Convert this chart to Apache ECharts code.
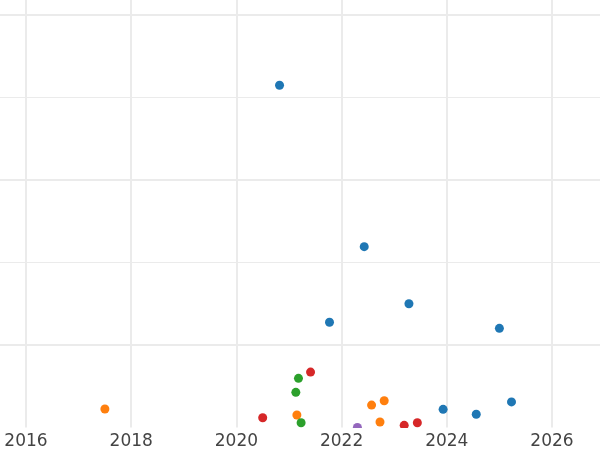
<!DOCTYPE html>
<html>
<head>
<meta charset="utf-8">
<script src="https://cdn.jsdelivr.net/npm/echarts@6/dist/echarts.min.js"></script>
<style>html,body{margin:0;padding:0;background:#fff}#c{width:600px;height:450px}</style>
</head>
<body>
<div id="c"></div>
<script>
// Data (x = year, y = value)
const seriesNames = ['A', 'B', 'C', 'D', 'E'];
const seriesColors = ['#1f77b4', '#ff7f0e', '#2ca02c', '#d62728', '#9467bd'];
const blueX = [2020.82, 2022.43, 2023.28, 2021.77, 2025.00, 2023.93, 2024.56, 2025.23];
const blueY = [20.74, 10.96, 7.50, 6.38, 6.01, 1.10, 0.80, 1.55];
const orangeX = [2017.50, 2021.15, 2022.57, 2022.81, 2022.73];
const orangeY = [1.12, 0.76, 1.36, 1.62, 0.33];
const greenX = [2021.18, 2021.13, 2021.23];
const greenY = [2.98, 2.13, 0.29];
const redX = [2021.41, 2020.50, 2023.19, 2023.44];
const redY = [3.36, 0.59, 0.13, 0.29];
const purpleX = [2022.30];
const purpleY = [0.0];
const xTicks = [2014, 2016, 2018, 2020, 2022, 2024, 2026, 2028];

const allX = [blueX, orangeX, greenX, redX, purpleX];
const allY = [blueY, orangeY, greenY, redY, purpleY];

const chart = echarts.init(document.getElementById('c'), null, {renderer: 'canvas'});
const gridCol = '#ebebeb';
const option = {
  animation: false,
  backgroundColor: '#fff',
  grid: [
    {left: -79.2, right: -57.2, top: -67.5, bottom: 22.5, containLabel: false, outerBoundsMode: 'none'},
    {left: -79.2, right: -57.2, top: -150, bottom: -60, containLabel: false, outerBoundsMode: 'none'}
  ],
  xAxis: [
    {
      type: 'value', gridIndex: 0,
      min: xTicks[0], max: xTicks[xTicks.length - 1], interval: 2,
      axisLine: {show: false}, axisTick: {show: false},
      axisLabel: {color: '#444', fontSize: 17, fontFamily: 'DejaVu Sans', margin: 6,
                  formatter: v => String(v)},
      splitLine: {show: true, lineStyle: {color: gridCol, width: 2}}
    },
    {
      type: 'value', gridIndex: 1, min: xTicks[0], max: xTicks[xTicks.length - 1], show: false
    }
  ],
  yAxis: [
    {
      type: 'value', gridIndex: 0, min: 0, max: 30, interval: 10,
      axisLine: {show: false}, axisTick: {show: false}, axisLabel: {show: false},
      splitLine: {show: true, showMinLine: false, lineStyle: {color: gridCol, width: 1}}
    },
    {
      type: 'value', gridIndex: 1, min: 0, max: 40, interval: 10,
      axisLine: {show: false}, axisTick: {show: false}, axisLabel: {show: false},
      splitLine: {show: true, lineStyle: {color: gridCol, width: 2}}
    }
  ],
  graphic: [
    {type: 'rect', z: 100, shape: {x: 0, y: 428, width: 600, height: 5}, style: {fill: '#fff'}}
  ],
  series: seriesNames.map((n, i) => ({
    name: n, type: 'scatter', xAxisIndex: 0, yAxisIndex: 0,
    symbolSize: 9, clip: false,
    itemStyle: {color: seriesColors[i], opacity: 1},
    data: allX[i].map((x, j) => [x, allY[i][j]])
  }))
};
chart.setOption(option);
</script>
</body>
</html>
